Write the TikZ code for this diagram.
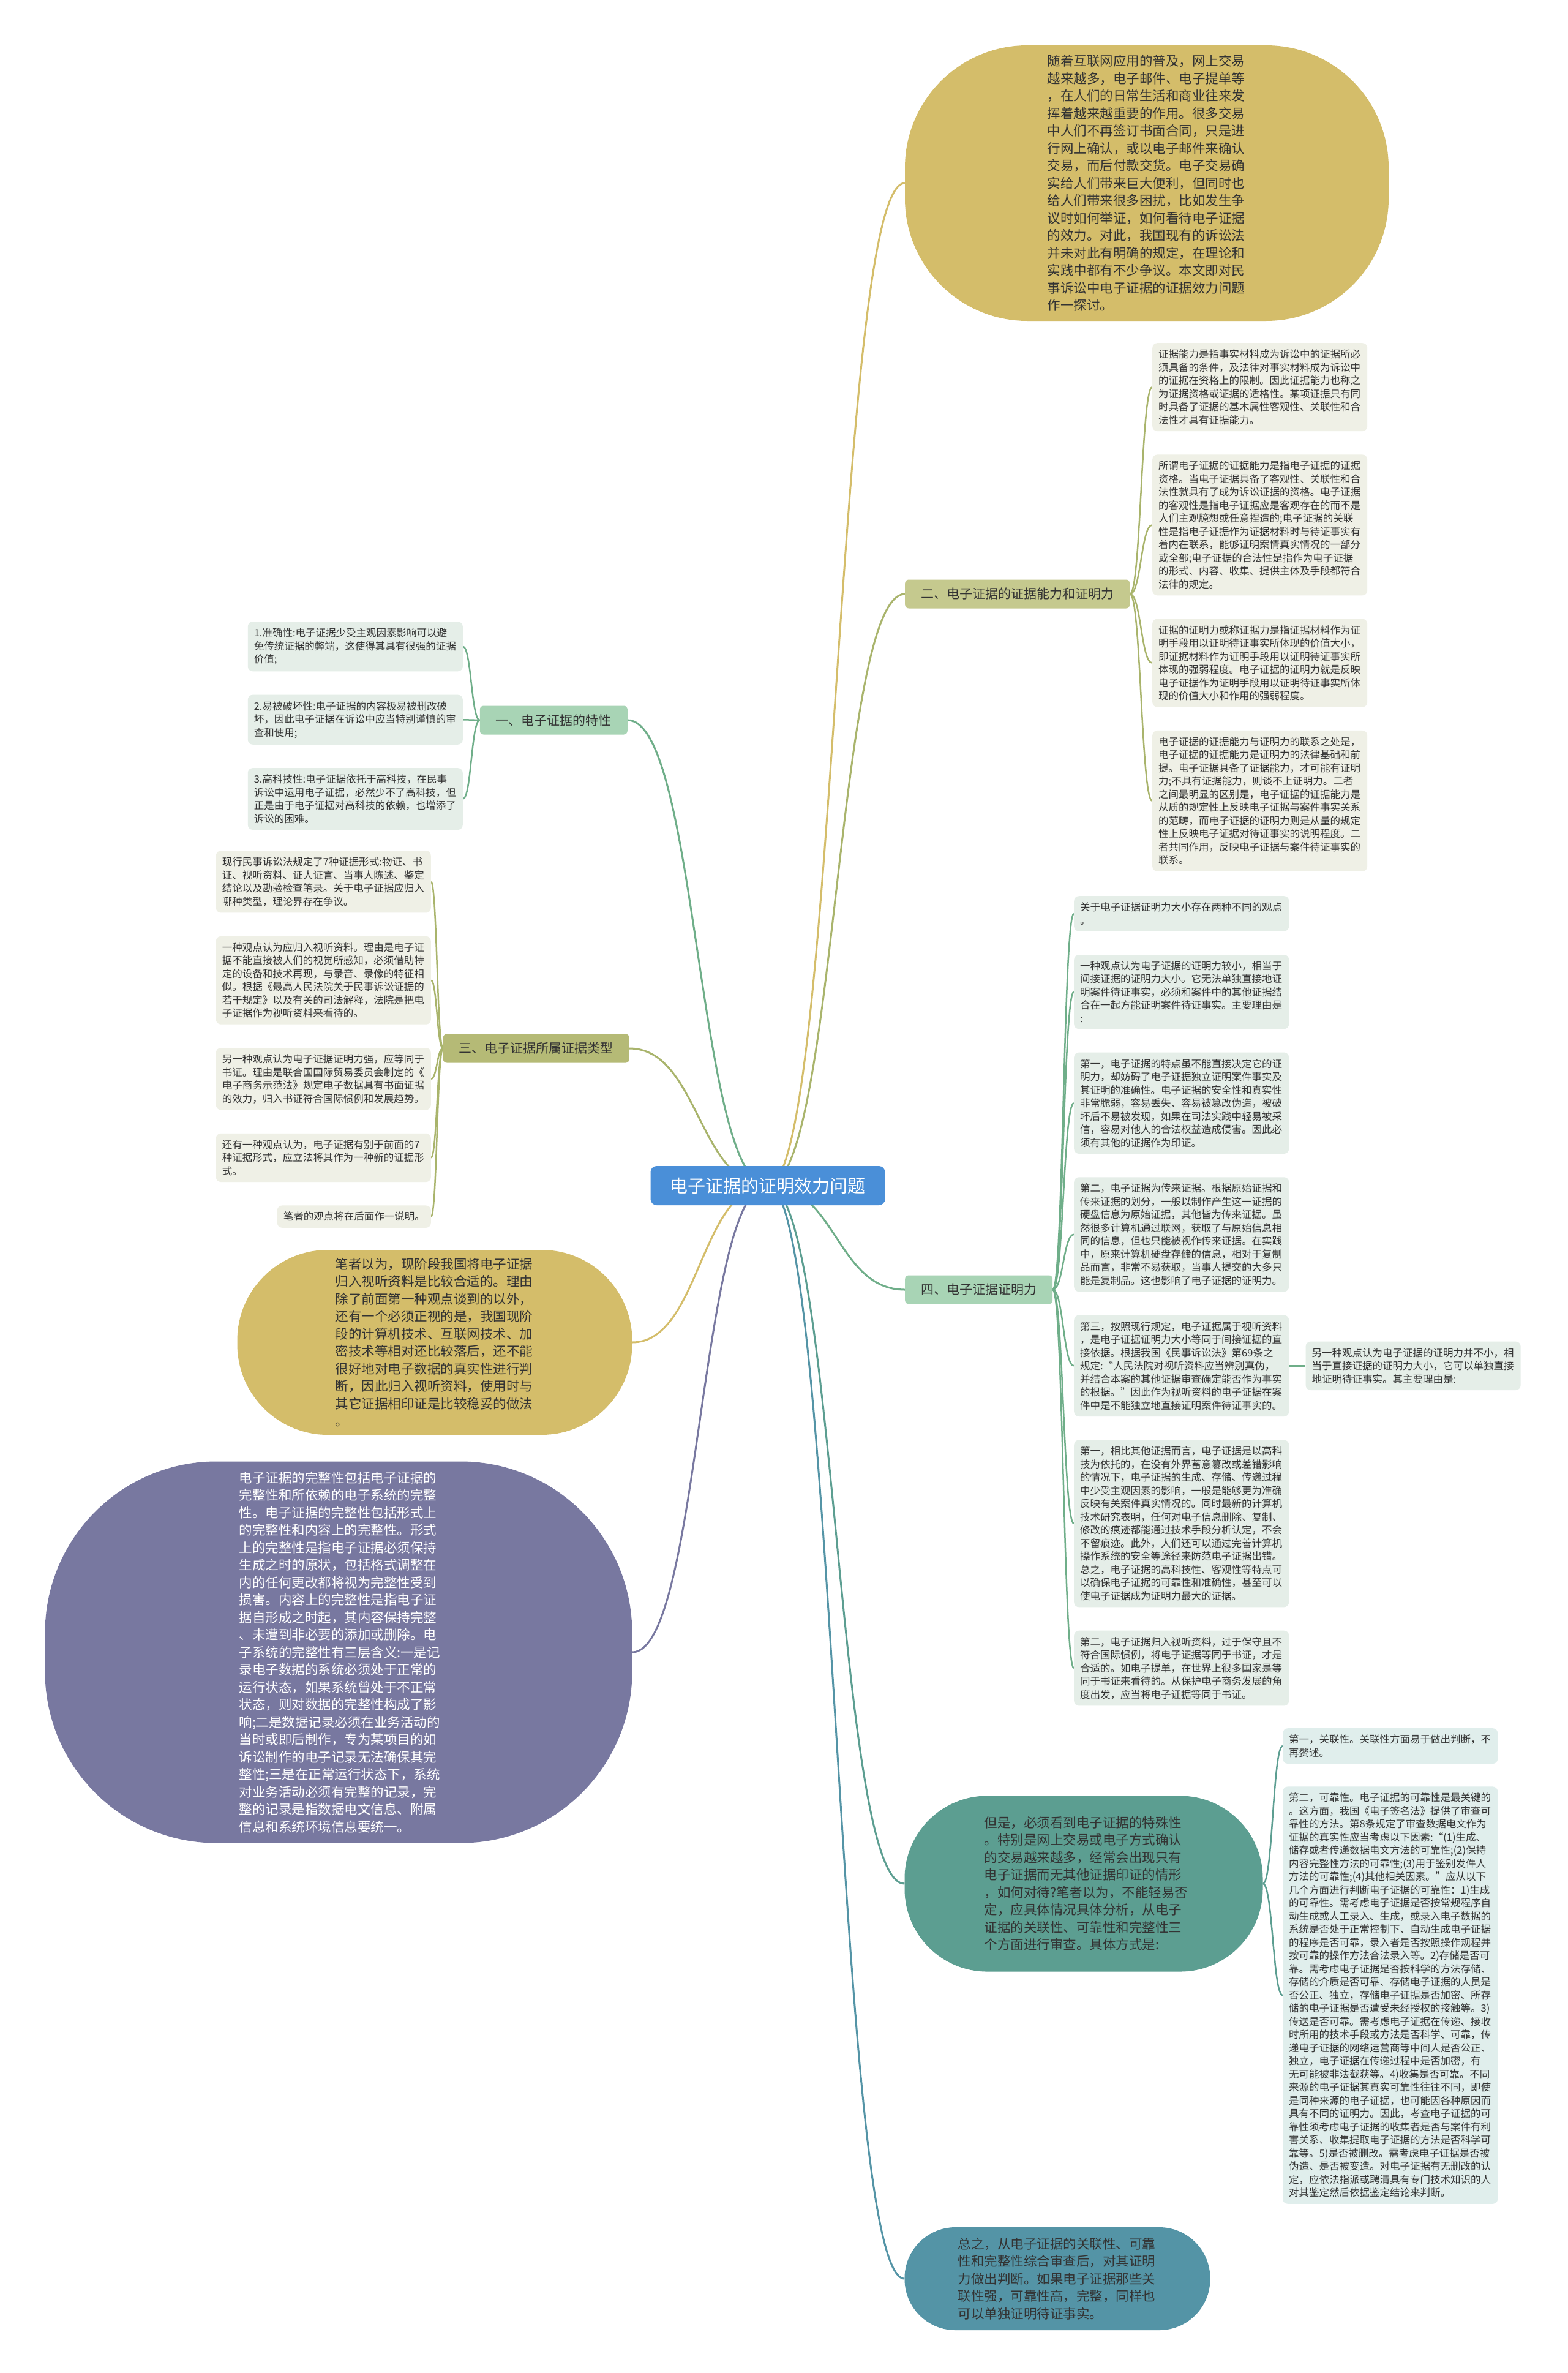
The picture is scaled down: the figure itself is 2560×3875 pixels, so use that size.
\documentclass[tikz,border=0pt]{standalone}
\usepackage{fontspec}
\setmainfont{Noto Sans CJK SC}
\usepackage{xcolor}
\usetikzlibrary{positioning,calc}

\definecolor{rootblue}{HTML}{4A8FD8}
\definecolor{mustard}{HTML}{D4BD6A}
\definecolor{slate}{HTML}{7878A0}
\definecolor{tealfill}{HTML}{5C9E91}
\definecolor{steel}{HTML}{5494A6}
\definecolor{olive}{HTML}{A9B46C}
\definecolor{olivelab}{HTML}{C5C98E}
\definecolor{olivelab2}{HTML}{B5BA76}
\definecolor{olivebox}{HTML}{EFF0E6}
\definecolor{leaf}{HTML}{6FAE89}
\definecolor{leaflab}{HTML}{A8D4B5}
\definecolor{leafbox}{HTML}{E5EEE8}
\definecolor{tealbox}{HTML}{E0EEEC}
\definecolor{ink}{HTML}{333333}

\pgfdeclarelayer{bg}
\pgfsetlayers{bg,main}

\begin{document}
\begin{tikzpicture}[x=1pt, y=-1pt, node distance=38pt,
  root/.style={fill=rootblue, text=white, rounded corners=10pt, minimum width=383pt, minimum height=64pt, font=\fontsize{29}{34}\selectfont},
  blob/.style={align=left, inner sep=0pt, text=ink, text width=325pt, font=\fontsize{21.5}{28.5}\selectfont},
  topic/.style={rounded corners=6pt, minimum height=47pt, inner xsep=26pt, text=ink, font=\fontsize{21}{25}\selectfont},
  leafnote/.style={rounded corners=8pt, align=left, text width=331pt, inner xsep=10pt, inner ysep=10.5pt, text=ink, font=\fontsize{16.5}{21.5}\selectfont},
  link/.style={line width=3pt, to path={.. controls ($(\tikztostart)!.5!(\tikztotarget |- \tikztostart)$) and ($(\tikztotarget)!.5!(\tikztostart |- \tikztotarget)$) .. (\tikztotarget)}},
  twig/.style={link, line width=2.5pt}]
  \useasboundingbox (0,0) rectangle (2560,3875);
  % centre
  \node[root] (root) at (1254,1936) {电子证据的证明效力问题};
  % introduction
  \node[blob, fill=mustard, minimum width=790pt, minimum height=450pt, rounded corners=200pt] (intro) at (1873,299) {随着互联网应用的普及，网上交易\\越来越多，电子邮件、电子提单等\\，在人们的日常生活和商业往来发\\挥着越来越重要的作用。很多交易\\中人们不再签订书面合同，只是进\\行网上确认，或以电子邮件来确认\\交易，而后付款交货。电子交易确\\实给人们带来巨大便利，但同时也\\给人们带来很多困扰，比如发生争\\议时如何举证，如何看待电子证据\\的效力。对此，我国现有的诉讼法\\并未对此有明确的规定，在理论和\\实践中都有不少争议。本文即对民\\事诉讼中电子证据的证据效力问题\\作一探讨。};
  % branch 二
  \node[topic, fill=olivelab, anchor=west] (abil) at (1478,970) {二、电子证据的证据能力和证明力};
  \node[leafnote, fill=olivebox, anchor=north west] (abil1) at (1882,560) {证据能力是指事实材料成为诉讼中的证据所必\\须具备的条件，及法律对事实材料成为诉讼中\\的证据在资格上的限制。因此证据能力也称之\\为证据资格或证据的适格性。某项证据只有同\\时具备了证据的基木属性客观性、关联性和合\\法性才具有证据能力。};
  \node[leafnote, fill=olivebox, below=of abil1] (abil2) {所谓电子证据的证据能力是指电子证据的证据\\资格。当电子证据具备了客观性、关联性和合\\法性就具有了成为诉讼证据的资格。电子证据\\的客观性是指电子证据应是客观存在的而不是\\人们主观臆想或任意捏造的;电子证据的关联\\性是指电子证据作为证据材料时与待证事实有\\着内在联系，能够证明案情真实情况的一部分\\或全部;电子证据的合法性是指作为电子证据\\的形式、内容、收集、提供主体及手段都符合\\法律的规定。};
  \node[leafnote, fill=olivebox, below=of abil2] (abil3) {证据的证明力或称证据力是指证据材料作为证\\明手段用以证明待证事实所体现的价值大小，\\即证据材料作为证明手段用以证明待证事实所\\体现的强弱程度。电子证据的证明力就是反映\\电子证据作为证明手段用以证明待证事实所体\\现的价值大小和作用的强弱程度。};
  \node[leafnote, fill=olivebox, below=of abil3] (abil4) {电子证据的证据能力与证明力的联系之处是，\\电子证据的证据能力是证明力的法律基础和前\\提。电子证据具备了证据能力，才可能有证明\\力;不具有证据能力，则谈不上证明力。二者\\之间最明显的区别是，电子证据的证据能力是\\从质的规定性上反映电子证据与案件事实关系\\的范畴，而电子证据的证明力则是从量的规定\\性上反映电子证据对待证事实的说明程度。二\\者共同作用，反映电子证据与案件待证事实的\\联系。};
  % branch 一
  \node[topic, fill=leaflab, anchor=east] (trait) at (1025,1176) {一、电子证据的特性};
  \node[leafnote, fill=leafbox, anchor=north east] (trait1) at (756,1015) {1.准确性:电子证据少受主观因素影响可以避\\免传统证据的弊端，这使得其具有很强的证据\\价值;};
  \node[leafnote, fill=leafbox, below=of trait1] (trait2) {2.易被破坏性:电子证据的内容极易被删改破\\坏，因此电子证据在诉讼中应当特别谨慎的审\\查和使用;};
  \node[leafnote, fill=leafbox, below=of trait2] (trait3) {3.高科技性:电子证据依托于高科技，在民事\\诉讼中运用电子证据，必然少不了高科技，但\\正是由于电子证据对高科技的依赖，也增添了\\诉讼的困难。};
  % branch 三
  \node[topic, fill=olivelab2, anchor=east] (kind) at (1028,1712) {三、电子证据所属证据类型};
  \node[leafnote, fill=olivebox, anchor=north east] (kind1) at (704,1389) {现行民事诉讼法规定了7种证据形式:物证、书\\证、视听资料、证人证言、当事人陈述、鉴定\\结论以及勘验检查笔录。关于电子证据应归入\\哪种类型，理论界存在争议。};
  \node[leafnote, fill=olivebox, below=of kind1] (kind2) {一种观点认为应归入视听资料。理由是电子证\\据不能直接被人们的视觉所感知，必须借助特\\定的设备和技术再现，与录音、录像的特征相\\似。根据《最高人民法院关于民事诉讼证据的\\若干规定》以及有关的司法解释，法院是把电\\子证据作为视听资料来看待的。};
  \node[leafnote, fill=olivebox, below=of kind2] (kind3) {另一种观点认为电子证据证明力强，应等同于\\书证。理由是联合国国际贸易委员会制定的《\\电子商务示范法》规定电子数据具有书面证据\\的效力，归入书证符合国际惯例和发展趋势。};
  \node[leafnote, fill=olivebox, below=of kind3] (kind4) {还有一种观点认为，电子证据有别于前面的7\\种证据形式，应立法将其作为一种新的证据形\\式。};
  \node[leafnote, fill=olivebox, text width=231pt, below left=38pt and 0pt of kind4.south east] (kind5) {笔者的观点将在后面作一说明。};
  % own view and integrity
  \node[blob, fill=mustard, minimum width=645pt, minimum height=302pt, rounded corners=148pt] (mine) at (710,2192) {笔者以为，现阶段我国将电子证据\\归入视听资料是比较合适的。理由\\除了前面第一种观点谈到的以外，\\还有一个必须正视的是，我国现阶\\段的计算机技术、互联网技术、加\\密技术等相对还比较落后，还不能\\很好地对电子数据的真实性进行判\\断，因此归入视听资料，使用时与\\其它证据相印证是比较稳妥的做法\\。};
  \node[blob, fill=slate, text=white, minimum width=959pt, minimum height=623pt, rounded corners=280pt] (whole) at (553,2698) {电子证据的完整性包括电子证据的\\完整性和所依赖的电子系统的完整\\性。电子证据的完整性包括形式上\\的完整性和内容上的完整性。形式\\上的完整性是指电子证据必须保持\\生成之时的原状，包括格式调整在\\内的任何更改都将视为完整性受到\\损害。内容上的完整性是指电子证\\据自形成之时起，其内容保持完整\\、未遭到非必要的添加或删除。电\\子系统的完整性有三层含义:一是记\\录电子数据的系统必须处于正常的\\运行状态，如果系统曾处于不正常\\状态，则对数据的完整性构成了影\\响;二是数据记录必须在业务活动的\\当时或即后制作，专为某项目的如\\诉讼制作的电子记录无法确保其完\\整性;三是在正常运行状态下，系统\\对业务活动必须有完整的记录，完\\整的记录是指数据电文信息、附属\\信息和系统环境信息要统一。};
  % branch 四
  \node[topic, fill=leaflab, anchor=west] (force) at (1478,2106) {四、电子证据证明力};
  \node[leafnote, fill=leafbox, anchor=north west] (force1) at (1754,1463) {关于电子证据证明力大小存在两种不同的观点\\。};
  \node[leafnote, fill=leafbox, below=of force1] (force2) {一种观点认为电子证据的证明力较小，相当于\\间接证据的证明力大小。它无法单独直接地证\\明案件待证事实，必须和案件中的其他证据结\\合在一起方能证明案件待证事实。主要理由是\\:};
  \node[leafnote, fill=leafbox, below=of force2] (force3) {第一，电子证据的特点虽不能直接决定它的证\\明力，却妨碍了电子证据独立证明案件事实及\\其证明的准确性。电子证据的安全性和真实性\\非常脆弱，容易丢失、容易被篡改伪造，被破\\坏后不易被发现，如果在司法实践中轻易被采\\信，容易对他人的合法权益造成侵害。因此必\\须有其他的证据作为印证。};
  \node[leafnote, fill=leafbox, below=of force3] (force4) {第二，电子证据为传来证据。根据原始证据和\\传来证据的划分，一般以制作产生这一证据的\\硬盘信息为原始证据，其他皆为传来证据。虽\\然很多计算机通过联网，获取了与原始信息相\\同的信息，但也只能被视作传来证据。在实践\\中，原来计算机硬盘存储的信息，相对于复制\\品而言，非常不易获取，当事人提交的大多只\\能是复制品。这也影响了电子证据的证明力。};
  \node[leafnote, fill=leafbox, below=of force4] (force5) {第三，按照现行规定，电子证据属于视听资料\\，是电子证据证明力大小等同于间接证据的直\\接依据。根据我国《民事诉讼法》第69条之\\规定:“人民法院对视听资料应当辨别真伪，\\并结合本案的其他证据审查确定能否作为事实\\的根据。”因此作为视听资料的电子证据在案\\件中是不能独立地直接证明案件待证事实的。};
  \node[leafnote, fill=leafbox, below=of force5] (force6) {第一，相比其他证据而言，电子证据是以高科\\技为依托的，在没有外界蓄意篡改或差错影响\\的情况下，电子证据的生成、存储、传递过程\\中少受主观因素的影响，一般是能够更为准确\\反映有关案件真实情况的。同时最新的计算机\\技术研究表明，任何对电子信息删除、复制、\\修改的痕迹都能通过技术手段分析认定，不会\\不留痕迹。此外，人们还可以通过完善计算机\\操作系统的安全等途径来防范电子证据出错。\\总之，电子证据的高科技性、客观性等特点可\\以确保电子证据的可靠性和准确性，甚至可以\\使电子证据成为证明力最大的证据。};
  \node[leafnote, fill=leafbox, below=of force6] (force7) {第二，电子证据归入视听资料，过于保守且不\\符合国际惯例，将电子证据等同于书证，才是\\合适的。如电子提单，在世界上很多国家是等\\同于书证来看待的。从保护电子商务发展的角\\度出发，应当将电子证据等同于书证。};
  \node[leafnote, fill=leafbox, right=27pt of force5] (force8) {另一种观点认为电子证据的证明力并不小，相\\当于直接证据的证明力大小，它可以单独直接\\地证明待证事实。其主要理由是:};
  % review and summary
  \node[blob, fill=tealfill, minimum width=585pt, minimum height=287pt, rounded corners=135pt] (check) at (1770,3076) {但是，必须看到电子证据的特殊性\\。特别是网上交易或电子方式确认\\的交易越来越多，经常会出现只有\\电子证据而无其他证据印证的情形\\，如何对待?笔者以为，不能轻易否\\定，应具体情况具体分析，从电子\\证据的关联性、可靠性和完整性三\\个方面进行审查。具体方式是:};
  \node[leafnote, fill=tealbox, anchor=north west] (check1) at (2095,2822) {第一，关联性。关联性方面易于做出判断，不\\再赘述。};
  \node[leafnote, fill=tealbox, below=37pt of check1] (check2) {第二，可靠性。电子证据的可靠性是最关键的\\。这方面，我国《电子签名法》提供了审查可\\靠性的方法。第8条规定了审查数据电文作为\\证据的真实性应当考虑以下因素:“(1)生成、\\储存或者传递数据电文方法的可靠性;(2)保持\\内容完整性方法的可靠性;(3)用于鉴别发件人\\方法的可靠性;(4)其他相关因素。”应从以下\\几个方面进行判断电子证据的可靠性：1)生成\\的可靠性。需考虑电子证据是否按常规程序自\\动生成或人工录入、生成，或录入电子数据的\\系统是否处于正常控制下、自动生成电子证据\\的程序是否可靠，录入者是否按照操作规程并\\按可靠的操作方法合法录入等。2)存储是否可\\靠。需考虑电子证据是否按科学的方法存储、\\存储的介质是否可靠、存储电子证据的人员是\\否公正、独立，存储电子证据是否加密、所存\\储的电子证据是否遭受未经授权的接触等。3)\\传送是否可靠。需考虑电子证据在传递、接收\\时所用的技术手段或方法是否科学、可靠，传\\递电子证据的网络运营商等中间人是否公正、\\独立，电子证据在传递过程中是否加密，有\\无可能被非法截获等。4)收集是否可靠。不同\\来源的电子证据其真实可靠性往往不同，即使\\是同种来源的电子证据，也可能因各种原因而\\具有不同的证明力。因此，考查电子证据的可\\靠性须考虑电子证据的收集者是否与案件有利\\害关系、收集提取电子证据的方法是否科学可\\靠等。5)是否被删改。需考虑电子证据是否被\\伪造、是否被变造。对电子证据有无删改的认\\定，应依法指派或聘清具有专门技术知识的人\\对其鉴定然后依据鉴定结论来判断。};
  \node[blob, fill=steel, minimum width=499pt, minimum height=168pt, rounded corners=83pt] (sum) at (1727,3721) {总之，从电子证据的关联性、可靠\\性和完整性综合审查后，对其证明\\力做出判断。如果电子证据那些关\\联性强，可靠性高，完整，同样也\\可以单独证明待证事实。};
  % connectors behind the nodes
  \begin{pgfonlayer}{bg}
    \fill[white] (0,0) rectangle (2560,3875);
    \draw[link, mustard] (root.center) to (intro.west);
    \draw[link, olive] (root.center) to (abil.west);
    \foreach \i in {1,...,4} \draw[twig, olive] (abil.east) to (abil\i.west);
    \draw[link, leaf] (root.center) to (trait.east);
    \foreach \i in {1,2,3} \draw[twig, leaf] (trait.west) to (trait\i.east);
    \draw[link, olive] (root.center) to (kind.east);
    \foreach \i in {1,...,5} \draw[twig, olive] (kind.west) to (kind\i.east);
    \draw[link, mustard] (root.center) to (mine.east);
    \draw[link, slate] (root.center) to (whole.east);
    \draw[link, leaf] (root.center) to (force.west);
    \foreach \i in {1,...,7} \draw[twig, leaf] (force.east) to (force\i.west);
    \draw[twig, leaf] (force5.east) -- (force8.west);
    \draw[link, tealfill] (root.center) to (check.west);
    \foreach \i in {1,2} \draw[twig, tealfill] (check.east) to (check\i.west);
    \draw[link, steel] (root.center) to (sum.west);
  \end{pgfonlayer}
\end{tikzpicture}
\end{document}
